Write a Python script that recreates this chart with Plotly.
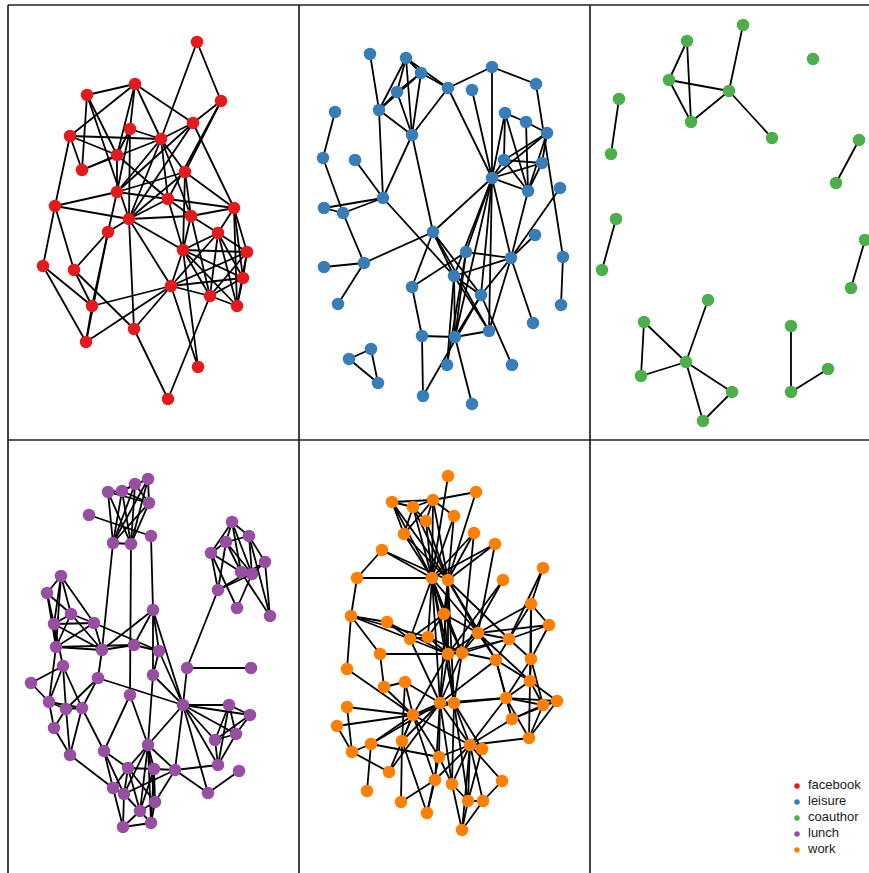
import plotly.graph_objects as go

# ---------------- data ----------------
LAYERS = ["facebook", "leisure", "coauthor", "lunch", "work"]
COLORS = ["#E41A1C", "#377EB8", "#4DAF4A", "#984EA3", "#FF7F00"]

# node positions (in picture pixels) and edges (1-based node ids)
FB_X = [197, 135, 87, 221, 193, 130, 70, 161, 117, 82, 185, 117, 168, 55, 234, 191, 129, 108,
        218, 183, 247, 43, 74, 243, 171, 210, 92, 237, 134, 86, 198, 168]
FB_Y = [42, 84, 95, 101, 123, 129, 136, 139, 155, 170, 172, 192, 199, 206, 208, 216, 219, 232,
        233, 250, 252, 266, 270, 278, 286, 296, 306, 306, 329, 342, 367, 399]
FB_EDGES = [(1, 8), (1, 4), (2, 3), (2, 7), (2, 6), (2, 9), (2, 8), (2, 5), (3, 10), (3, 9), (3, 17),
            (4, 5), (4, 11), (4, 13), (5, 8), (5, 17), (5, 15), (5, 12), (6, 8), (6, 9), (6, 12), (6, 17),
            (7, 8), (7, 10), (7, 14), (7, 9), (8, 11), (8, 12), (8, 13), (8, 16), (8, 17), (9, 10),
            (9, 12), (9, 13), (10, 8), (11, 12), (11, 17), (11, 16), (11, 15), (11, 20), (12, 14),
            (12, 13), (12, 18), (13, 15), (13, 16), (13, 17), (13, 20), (14, 17), (14, 22), (14, 23),
            (15, 16), (15, 19), (15, 21), (15, 24), (15, 28), (16, 17), (16, 19), (16, 20), (16, 26),
            (17, 18), (17, 20), (17, 29), (17, 25), (18, 23), (18, 27), (18, 30), (19, 20), (19, 21),
            (19, 24), (19, 26), (19, 28), (19, 25), (20, 21), (20, 24), (20, 26), (20, 25), (20, 28),
            (20, 31), (21, 24), (21, 26), (21, 25), (21, 28), (24, 26), (24, 28), (24, 25), (26, 28),
            (26, 25), (26, 32), (25, 27), (25, 30), (25, 29), (25, 31), (22, 27), (22, 30), (23, 29),
            (23, 27), (27, 30), (29, 32)]

LE_X = [370, 406, 421, 397, 448, 492, 472, 536, 335, 379, 412, 505, 526, 547, 323, 355, 504, 542,
        492, 528, 560, 383, 324, 343, 433, 535, 466, 511, 563, 324, 364, 454, 412, 481, 338, 561,
        533, 489, 422, 455, 371, 349, 447, 512, 378, 423, 472]
LE_Y = [54, 58, 73, 92, 88, 67, 90, 84, 112, 110, 135, 113, 122, 133, 158, 160, 160, 163, 178, 191,
        188, 198, 208, 213, 232, 235, 252, 258, 257, 267, 263, 276, 287, 295, 304, 305, 323, 331,
        336, 337, 349, 359, 365, 365, 383, 396, 404]
LE_EDGES = [(1, 10), (2, 10), (2, 4), (2, 11), (2, 3), (2, 5), (3, 5), (3, 4), (3, 10), (3, 11),
            (4, 10), (4, 11), (10, 11), (10, 22), (5, 11), (5, 6), (5, 19), (6, 8), (6, 19), (7, 19),
            (8, 29), (9, 15), (15, 24), (16, 22), (22, 23), (22, 24), (23, 24), (11, 22), (11, 25),
            (22, 32), (24, 31), (12, 13), (12, 17), (12, 19), (12, 20), (13, 14), (13, 20), (14, 19),
            (14, 17), (14, 18), (14, 20), (17, 18), (17, 19), (17, 20), (18, 19), (18, 20), (19, 20),
            (19, 25), (19, 27), (19, 32), (19, 34), (19, 28), (19, 38), (19, 40), (21, 28), (20, 28),
            (26, 28), (30, 31), (31, 35), (31, 25), (25, 33), (25, 32), (25, 34), (25, 38), (27, 28),
            (27, 33), (27, 40), (27, 43), (28, 32), (28, 34), (28, 38), (28, 37), (32, 34), (32, 40),
            (32, 43), (32, 38), (33, 39), (39, 40), (39, 46), (40, 38), (40, 47), (40, 34), (34, 44),
            (34, 46), (29, 36), (41, 42), (41, 45), (42, 45)]

CO_X = [743, 687, 813, 669, 729, 619, 691, 772, 859, 611, 836, 616, 865, 602, 851, 708, 644, 791,
        686, 828, 641, 732, 791, 703]
CO_Y = [25, 41, 59, 80, 91, 99, 122, 138, 140, 154, 183, 219, 240, 270, 288, 300, 322, 326, 362,
        369, 376, 392, 392, 421]
CO_EDGES = [(2, 4), (2, 7), (4, 5), (4, 7), (5, 7), (5, 1), (5, 8), (6, 10), (9, 11), (12, 14),
            (13, 15), (16, 19), (17, 19), (17, 21), (21, 19), (19, 22), (19, 24), (22, 24), (18, 23),
            (23, 20)]

LU_X = [148, 135, 122, 108, 149, 89, 151, 113, 131, 232, 249, 226, 211, 265, 241, 252, 218, 237,
        270, 61, 47, 153, 71, 54, 94, 56, 134, 102, 159, 63, 187, 251, 153, 31, 98, 130, 49, 183,
        229, 66, 82, 250, 54, 236, 215, 148, 70, 104, 218, 128, 154, 175, 239, 113, 124, 208, 155,
        140, 151, 123]
LU_Y = [479, 484, 491, 492, 503, 515, 536, 543, 544, 522, 536, 542, 553, 562, 572, 574, 590, 608,
        616, 576, 593, 610, 614, 624, 623, 647, 645, 650, 651, 666, 668, 668, 675, 683, 678, 695,
        702, 705, 705, 709, 708, 715, 728, 734, 740, 745, 755, 751, 765, 768, 769, 770, 771, 788,
        794, 793, 802, 811, 823, 827]
LU_EDGES = [(1, 2), (1, 5), (1, 3), (1, 8), (1, 9), (2, 3), (2, 5), (2, 8), (2, 9), (3, 4), (3, 5),
            (3, 8), (3, 9), (4, 5), (4, 8), (4, 9), (5, 8), (5, 9), (8, 9), (6, 7), (7, 22), (8, 28),
            (9, 36), (10, 12), (10, 11), (10, 13), (10, 15), (10, 16), (11, 12), (11, 14), (11, 16),
            (11, 19), (12, 13), (12, 15), (12, 17), (12, 16), (13, 15), (13, 17), (13, 18), (14, 16),
            (14, 19), (14, 17), (15, 16), (15, 19), (16, 17), (16, 18), (17, 31), (20, 21), (20, 24),
            (20, 23), (20, 25), (20, 26), (21, 24), (21, 26), (21, 23), (23, 24), (23, 25), (23, 28),
            (23, 26), (24, 25), (24, 26), (24, 28), (25, 28), (25, 26), (25, 29), (26, 28), (22, 27),
            (22, 28), (22, 29), (27, 28), (27, 29), (26, 27), (24, 30), (26, 37), (28, 35), (22, 33),
            (22, 38), (31, 32), (31, 38), (33, 38), (33, 46), (29, 33), (29, 38), (35, 38), (30, 34),
            (30, 37), (30, 40), (30, 41), (34, 37), (35, 41), (35, 40), (37, 40), (37, 41), (37, 43),
            (40, 41), (40, 43), (40, 47), (41, 47), (41, 48), (43, 47), (47, 54), (48, 54), (48, 50),
            (48, 55), (36, 46), (36, 48), (46, 50), (46, 51), (46, 52), (46, 55), (46, 57), (46, 58),
            (46, 59), (38, 39), (38, 42), (38, 44), (38, 45), (38, 49), (38, 56), (38, 52), (38, 46),
            (39, 44), (39, 45), (39, 42), (39, 49), (42, 44), (42, 45), (44, 45), (44, 49), (45, 49),
            (49, 52), (52, 56), (53, 56), (50, 51), (50, 54), (50, 55), (50, 57), (50, 58), (51, 52),
            (51, 57), (51, 58), (51, 59), (52, 55), (52, 57), (54, 55), (54, 60), (55, 58), (55, 60),
            (55, 59), (57, 58), (57, 59), (58, 59), (59, 60), (58, 60)]

WO_X = [448, 476, 392, 433, 413, 454, 426, 404, 474, 495, 382, 543, 357, 432, 448, 503, 531, 444,
        351, 387, 549, 478, 410, 428, 509, 380, 448, 462, 496, 531, 347, 530, 384, 405, 506, 440,
        454, 543, 557, 347, 413, 512, 337, 529, 402, 371, 470, 482, 352, 439, 389, 435, 452, 502,
        367, 401, 468, 483, 427, 462]
WO_Y = [476, 492, 502, 500, 507, 516, 521, 534, 533, 544, 550, 568, 578, 578, 580, 580, 604, 614,
        616, 622, 625, 633, 639, 637, 639, 654, 654, 653, 660, 659, 669, 681, 687, 682, 698, 703,
        703, 705, 701, 707, 715, 719, 726, 738, 741, 744, 745, 749, 752, 757, 772, 780, 784, 781,
        791, 802, 801, 801, 813, 830]
WO_EDGES = [(1, 14), (2, 4), (2, 15), (3, 4), (3, 5), (3, 14), (3, 8), (3, 15), (4, 5), (4, 7),
            (4, 6), (4, 8), (4, 14), (4, 15), (5, 7), (5, 14), (5, 15), (5, 8), (6, 14), (6, 15),
            (7, 14), (7, 15), (8, 14), (8, 15), (9, 14), (9, 15), (9, 28), (10, 15), (10, 14),
            (10, 22), (11, 13), (11, 14), (11, 15), (12, 17), (12, 25), (13, 14), (13, 19), (14, 18),
            (14, 22), (14, 23), (14, 24), (14, 27), (14, 28), (14, 36), (14, 37), (15, 18), (15, 22),
            (15, 27), (15, 36), (15, 37), (15, 25), (15, 29), (16, 28), (16, 27), (17, 21), (17, 22),
            (17, 25), (17, 30), (17, 32), (18, 23), (18, 24), (18, 27), (18, 28), (18, 22), (19, 20),
            (19, 23), (19, 24), (19, 26), (19, 31), (20, 23), (20, 27), (21, 25), (21, 30), (21, 22),
            (22, 25), (22, 27), (22, 29), (22, 28), (22, 32), (23, 24), (23, 27), (23, 36), (24, 27),
            (24, 28), (25, 29), (25, 30), (25, 27), (25, 28), (26, 27), (26, 33), (27, 28), (27, 36),
            (27, 37), (27, 41), (28, 29), (28, 36), (28, 37), (29, 35), (29, 36), (29, 42), (29, 32),
            (30, 32), (30, 38), (30, 35), (31, 41), (32, 35), (32, 39), (32, 38), (32, 44), (33, 34),
            (33, 41), (34, 36), (34, 41), (34, 45), (35, 36), (35, 37), (35, 38), (35, 39), (35, 44),
            (35, 47), (35, 42), (36, 37), (36, 41), (36, 45), (36, 46), (36, 47), (36, 50), (36, 52),
            (36, 53), (36, 51), (37, 41), (37, 47), (37, 48), (37, 53), (37, 57), (38, 39), (38, 42),
            (38, 44), (39, 42), (39, 44), (40, 41), (40, 49), (41, 43), (41, 45), (41, 46), (41, 47),
            (41, 50), (41, 51), (41, 52), (42, 47), (43, 49), (44, 47), (45, 56), (45, 59), (46, 49),
            (46, 55), (46, 50), (47, 48), (47, 50), (47, 52), (47, 53), (47, 57), (47, 58), (47, 60),
            (47, 54), (48, 57), (49, 51), (50, 53), (50, 59), (52, 59), (52, 56), (53, 57), (53, 60),
            (54, 58), (57, 58), (57, 60), (58, 60)]

NETWORKS = [(FB_X, FB_Y, FB_EDGES), (LE_X, LE_Y, LE_EDGES), (CO_X, CO_Y, CO_EDGES),
            (LU_X, LU_Y, LU_EDGES), (WO_X, WO_Y, WO_EDGES)]

# ---------------- layout geometry (pixels) ----------------
W, H = 869, 873
ML, MT = 8, 5
COL_EDGES = [8, 299, 590, 869]
ROW_EDGES = [5, 440, 873]
PW, PH = W - ML, H - MT

FONT = "Liberation Sans, Arial, Helvetica, sans-serif"

fig = go.Figure()
layout_axes = {}
for k in range(6):
    c, r = k % 3, k // 3
    sfx = "" if k == 0 else str(k + 1)
    layout_axes["xaxis" + sfx] = dict(
        domain=[(COL_EDGES[c] - ML) / PW, (COL_EDGES[c + 1] - ML) / PW],
        range=[COL_EDGES[c], COL_EDGES[c + 1]], visible=False, fixedrange=True,
        anchor="y" + sfx)
    layout_axes["yaxis" + sfx] = dict(
        domain=[1 - (ROW_EDGES[r + 1] - MT) / PH, 1 - (ROW_EDGES[r] - MT) / PH],
        range=[ROW_EDGES[r + 1], ROW_EDGES[r]], visible=False, fixedrange=True,
        anchor="x" + sfx)

for k, (xs, ys, edges) in enumerate(NETWORKS):
    sfx = "" if k == 0 else str(k + 1)
    ex, ey = [], []
    for a, b in edges:
        ex += [xs[a - 1], xs[b - 1], None]
        ey += [ys[a - 1], ys[b - 1], None]
    fig.add_trace(go.Scatter(x=ex, y=ey, mode="lines", line=dict(color="black", width=1.8),
                             hoverinfo="skip", showlegend=False,
                             xaxis="x" + sfx, yaxis="y" + sfx))
    fig.add_trace(go.Scatter(x=xs, y=ys, mode="markers", name=LAYERS[k],
                             marker=dict(size=12.5, color=COLORS[k], line=dict(width=0)),
                             showlegend=False, xaxis="x" + sfx, yaxis="y" + sfx))

# legend drawn in the empty sixth panel (x = 0 column, y = row index)
LEG_X0, LEG_Y0, LEG_STEP = 797, 786, 16
layout_axes["xaxis6"]["range"] = [COL_EDGES[2] - LEG_X0, COL_EDGES[3] - LEG_X0]
layout_axes["yaxis6"]["range"] = [(ROW_EDGES[2] - LEG_Y0) / LEG_STEP, (ROW_EDGES[1] - LEG_Y0) / LEG_STEP]
rows = list(range(len(LAYERS)))
fig.add_trace(go.Scatter(x=[0] * len(LAYERS), y=rows, mode="markers",
                         marker=dict(size=5.5, color=COLORS), showlegend=False,
                         hoverinfo="skip", xaxis="x6", yaxis="y6"))
fig.add_trace(go.Scatter(x=[0] * len(LAYERS), y=rows, mode="markers+text", text=LAYERS,
                         textposition="middle right",
                         textfont=dict(size=13, color="#1a1a1a", family=FONT),
                         marker=dict(size=16, color="rgba(0,0,0,0)"), showlegend=False,
                         hoverinfo="skip", xaxis="x6", yaxis="y6"))

# panel frame lines
shapes = []
for px in COL_EDGES[:3]:
    xp = (px - ML) / PW
    shapes.append(dict(type="line", xref="paper", yref="paper", x0=xp, x1=xp, y0=0, y1=1,
                       line=dict(color="#222222", width=1.7)))
for py in ROW_EDGES[:2]:
    yp = 1 - (py - MT) / PH
    shapes.append(dict(type="line", xref="paper", yref="paper", x0=0, x1=1, y0=yp, y1=yp,
                       line=dict(color="#222222", width=1.7)))

fig.update_layout(
    width=W, height=H,
    margin=dict(l=ML, r=0, t=MT, b=0, pad=0),
    paper_bgcolor="white", plot_bgcolor="white",
    showlegend=False, shapes=shapes,
    font=dict(family=FONT, size=13, color="#1a1a1a"),
    **layout_axes,
)

# remove the default page margin so the figure sits at the window's top-left corner
fig.write_html("out.html", config={"displayModeBar": False},
               post_script="document.body.style.margin='0';document.body.style.overflow='hidden';")
